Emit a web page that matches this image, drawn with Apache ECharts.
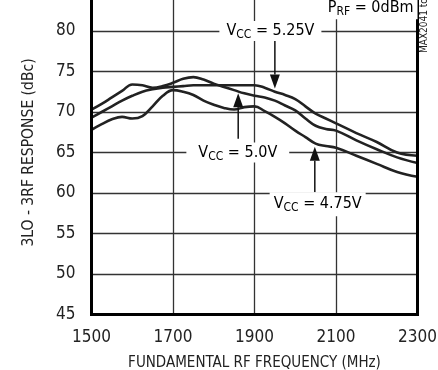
<!DOCTYPE html>
<html><head><meta charset="utf-8">
<script src="https://cdn.jsdelivr.net/npm/echarts@6/dist/echarts.min.js"></script>
<style>html,body{margin:0;padding:0;background:#fff}#c{width:438px;height:370px}</style>
</head><body><div id="c"></div>
<script>
const freq = [1500,1525,1550,1575,1600,1625,1650,1675,1700,1725,1750,1775,1800,1825,1850,1875,1900,1925,1950,1975,2000,2025,2050,2075,2100,2150,2200,2250,2300];
const vcc525 = [69.3,70.0,70.7,71.4,72.0,72.5,72.8,73.0,73.1,73.2,73.3,73.3,73.3,73.3,73.3,73.3,73.3,73.0,72.5,72.1,71.6,70.7,69.8,69.2,68.6,67.4,66.3,65.0,64.6];
const vcc50  = [70.3,71.0,71.8,72.6,73.4,73.3,73.0,73.2,73.6,74.1,74.3,74.0,73.5,73.1,72.7,72.3,72.0,71.8,71.4,70.8,70.2,69.2,68.3,67.9,67.7,66.5,65.4,64.4,63.7];
const vcc475 = [67.8,68.5,69.1,69.4,69.2,69.5,70.7,72.0,72.7,72.5,72.1,71.4,70.9,70.5,70.3,70.6,70.7,70.1,69.4,68.6,67.7,66.9,66.1,65.8,65.6,64.6,63.6,62.6,62.0];
const xTicks = [1500,1700,1900,2100,2300];
const yTicks = [45,50,55,60,65,70,75,80,85];
const xTitle = 'FUNDAMENTAL RF FREQUENCY (MHz)';
const yTitle = '3LO - 3RF RESPONSE (dBc)';
// annotations: label centre [freq, dBc], arrow [freq, from, to]
const annVcc525 = {parts:['V','CC',' = 5.25V'], at:[1939,80], pad:[1,7], arrow:[1950,79.0,72.9]};
const annVcc50  = {parts:['V','CC',' = 5.0V'],  at:[1859,65], pad:[1,12], arrow:[1860,66.7,72.3]};
const annVcc475 = {parts:['V','CC',' = 4.75V'], at:[2055,58.6], pad:[3,4], arrow:[2048,60.1,65.7]};
const annPrf    = {parts:['P','RF',' = 0dBm'],  at:[2185,82.8], pad:[2,4], arrow:null};
const tocText = 'MAX2041 toc08';

const F = '"Liberation Sans Narrow","DejaVu Sans Condensed","Liberation Sans",sans-serif';
const INK = '#222';
const chart = echarts.init(document.getElementById('c'));
const pairs = a => freq.map((f,i)=>[f,a[i]]);
const lineS = (name,a)=>({name,type:'line',data:pairs(a),smooth:0.4,showSymbol:false,
  lineStyle:{color:'#222',width:2.6},z:3});
chart.setOption({
  animation:false,
  grid:{left:91.5,right:20.5,top:-9.5,bottom:55.5,outerBoundsMode:'none',containLabel:false,
    show:true,borderColor:'#000',borderWidth:3,backgroundColor:'transparent',z:4},
  xAxis:{type:'value',min:xTicks[0],max:xTicks[xTicks.length-1],interval:200,
    axisLine:{show:false},axisTick:{show:false},
    axisLabel:{color:INK,fontFamily:F,fontSize:17,margin:15,formatter:v=>String(v)},
    splitLine:{show:true,lineStyle:{color:'#333',width:1.3}},
    name:xTitle,nameLocation:'middle',nameGap:41,nameTextStyle:{color:INK,fontFamily:F,fontSize:15}},
  yAxis:{type:'value',min:yTicks[0],max:yTicks[yTicks.length-1],interval:5,
    axisLine:{show:false},axisTick:{show:false},
    axisLabel:{color:INK,fontFamily:F,fontSize:17,margin:16,formatter:v=>String(v)},
    splitLine:{show:true,lineStyle:{color:'#333',width:1.3}},
    name:yTitle,nameLocation:'middle',nameGap:55,nameTextStyle:{color:INK,fontFamily:F,fontSize:15.5}},
  series:[lineS('VCC = 5.25V',vcc525),lineS('VCC = 5.0V',vcc50),lineS('VCC = 4.75V',vcc475)]
});
const px = (f,v)=>chart.convertToPixel({gridIndex:0},[f,v]);
const g = [];
function addAnn(a){
  const c = px(a.at[0],a.at[1]);
  g.push({type:'text',x:c[0],y:c[1],z:10,style:{
    text:'{m|'+a.parts[0]+'}{s|'+a.parts[1]+'}{m|'+a.parts[2]+'}',
    align:'center',verticalAlign:'middle',backgroundColor:'#fff',padding:a.pad,
    rich:{m:{fontFamily:F,fontSize:16,color:INK,lineHeight:18},
          s:{fontFamily:F,fontSize:12,color:INK,lineHeight:18,padding:[8,0,0,0]}}}});
  if(a.arrow){
    const p1 = px(a.arrow[0],a.arrow[1]), p2 = px(a.arrow[0],a.arrow[2]);
    const dir = p2[1]>p1[1]?1:-1, L=14, W=5;
    g.push({type:'line',z:9,shape:{x1:p1[0],y1:p1[1],x2:p2[0],y2:p2[1]-dir*L},style:{stroke:'#111',lineWidth:1.5}});
    g.push({type:'polygon',z:9,shape:{points:[[p2[0],p2[1]],[p2[0]-W,p2[1]-dir*L],[p2[0]+W,p2[1]-dir*L]]},style:{fill:'#111'}});
  }
}
[annVcc525,annVcc50,annVcc475,annPrf].forEach(addAnn);
g.push({type:'text',x:424.5,y:53,rotation:Math.PI/2,z:10,style:{text:tocText,fontFamily:F,fontSize:10,fill:INK,align:'left',verticalAlign:'middle'}});
chart.setOption({graphic:g});
</script></body></html>
